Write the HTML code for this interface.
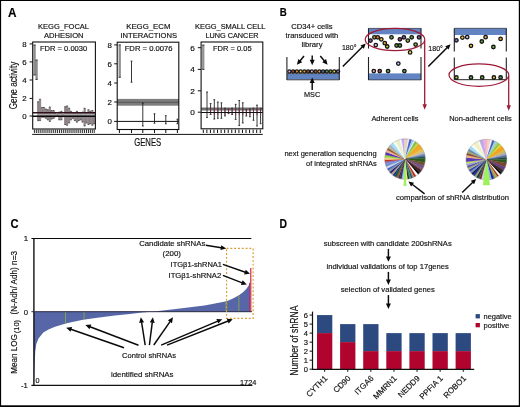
<!DOCTYPE html>
<html lang="en"><head><meta charset="utf-8"><title>Figure</title>
<style>html,body{margin:0;padding:0;background:#fff;}svg{display:block;will-change:transform;}text{font-family:"Liberation Sans", Arial, Helvetica, sans-serif;stroke:#111;stroke-width:0.16px;}</style>
</head><body>
<svg width="520" height="407" viewBox="0 0 520 407">
<rect x="0" y="0" width="520" height="407" fill="#fff"/>
<text x="7.90" y="16.70" font-size="12.4" textLength="8.50" lengthAdjust="spacingAndGlyphs" fill="#000" font-weight="bold">A</text>
<text x="279.70" y="15.90" font-size="10.6" textLength="7.00" lengthAdjust="spacingAndGlyphs" fill="#000" font-weight="bold">B</text>
<text x="10.40" y="228.20" font-size="12" textLength="8.10" lengthAdjust="spacingAndGlyphs" fill="#000" font-weight="bold">C</text>
<text x="279.50" y="228.10" font-size="12.1" textLength="7.50" lengthAdjust="spacingAndGlyphs" fill="#000" font-weight="bold">D</text>
<g id="panelA">
<text x="38.10" y="29.00" font-size="7.5" textLength="50.90" lengthAdjust="spacingAndGlyphs" fill="#111">KEGG_FOCAL</text>
<text x="43.90" y="38.20" font-size="7.5" textLength="39.70" lengthAdjust="spacingAndGlyphs" fill="#111">ADHESION</text>
<text x="126.20" y="29.00" font-size="7.5" textLength="44.20" lengthAdjust="spacingAndGlyphs" fill="#111">KEGG_ECM</text>
<text x="120.40" y="38.20" font-size="7.5" textLength="56.60" lengthAdjust="spacingAndGlyphs" fill="#111">INTERACTIONS</text>
<text x="195.00" y="29.00" font-size="7.5" textLength="70.50" lengthAdjust="spacingAndGlyphs" fill="#111">KEGG_SMALL CELL</text>
<text x="205.50" y="38.20" font-size="7.5" textLength="53.00" lengthAdjust="spacingAndGlyphs" fill="#111">LUNG CANCER</text>
<text x="40.00" y="50.90" font-size="7.5" textLength="47.20" lengthAdjust="spacingAndGlyphs" fill="#111">FDR = 0.0030</text>
<text x="124.70" y="50.90" font-size="7.5" textLength="47.90" lengthAdjust="spacingAndGlyphs" fill="#111">FDR = 0.0076</text>
<text x="212.90" y="50.90" font-size="7.5" textLength="38.70" lengthAdjust="spacingAndGlyphs" fill="#111">FDR = 0.05</text>
<line x1="38.16" y1="101.72" x2="38.16" y2="120.60" stroke="#a89ca2" stroke-width="1.45"/>
<line x1="37.46" y1="101.72" x2="37.46" y2="120.60" stroke="#4a4045" stroke-width="0.45"/>
<line x1="38.86" y1="101.72" x2="38.86" y2="120.60" stroke="#4a4045" stroke-width="0.45"/>
<line x1="37.36" y1="101.72" x2="38.96" y2="101.72" stroke="#222" stroke-width="0.7"/>
<line x1="37.36" y1="120.60" x2="38.96" y2="120.60" stroke="#222" stroke-width="0.7"/>
<line x1="40.02" y1="99.24" x2="40.02" y2="120.60" stroke="#a89ca2" stroke-width="1.45"/>
<line x1="39.32" y1="99.24" x2="39.32" y2="120.60" stroke="#4a4045" stroke-width="0.45"/>
<line x1="40.72" y1="99.24" x2="40.72" y2="120.60" stroke="#4a4045" stroke-width="0.45"/>
<line x1="39.22" y1="99.24" x2="40.82" y2="99.24" stroke="#222" stroke-width="0.7"/>
<line x1="39.22" y1="120.60" x2="40.82" y2="120.60" stroke="#222" stroke-width="0.7"/>
<line x1="42.03" y1="107.45" x2="42.03" y2="117.20" stroke="#a89ca2" stroke-width="1.45"/>
<line x1="41.33" y1="107.45" x2="41.33" y2="117.20" stroke="#4a4045" stroke-width="0.45"/>
<line x1="42.73" y1="107.45" x2="42.73" y2="117.20" stroke="#4a4045" stroke-width="0.45"/>
<line x1="41.23" y1="107.45" x2="42.83" y2="107.45" stroke="#222" stroke-width="0.7"/>
<line x1="41.23" y1="117.20" x2="42.83" y2="117.20" stroke="#222" stroke-width="0.7"/>
<line x1="43.89" y1="107.45" x2="43.89" y2="117.20" stroke="#a89ca2" stroke-width="1.45"/>
<line x1="43.19" y1="107.45" x2="43.19" y2="117.20" stroke="#4a4045" stroke-width="0.45"/>
<line x1="44.59" y1="107.45" x2="44.59" y2="117.20" stroke="#4a4045" stroke-width="0.45"/>
<line x1="43.09" y1="107.45" x2="44.69" y2="107.45" stroke="#222" stroke-width="0.7"/>
<line x1="43.09" y1="117.20" x2="44.69" y2="117.20" stroke="#222" stroke-width="0.7"/>
<line x1="45.90" y1="108.99" x2="45.90" y2="118.28" stroke="#a89ca2" stroke-width="1.45"/>
<line x1="45.20" y1="108.99" x2="45.20" y2="118.28" stroke="#4a4045" stroke-width="0.45"/>
<line x1="46.60" y1="108.99" x2="46.60" y2="118.28" stroke="#4a4045" stroke-width="0.45"/>
<line x1="45.10" y1="108.99" x2="46.70" y2="108.99" stroke="#222" stroke-width="0.7"/>
<line x1="45.10" y1="118.28" x2="46.70" y2="118.28" stroke="#222" stroke-width="0.7"/>
<line x1="47.76" y1="109.77" x2="47.76" y2="119.83" stroke="#a89ca2" stroke-width="1.45"/>
<line x1="47.06" y1="109.77" x2="47.06" y2="119.83" stroke="#4a4045" stroke-width="0.45"/>
<line x1="48.46" y1="109.77" x2="48.46" y2="119.83" stroke="#4a4045" stroke-width="0.45"/>
<line x1="46.96" y1="109.77" x2="48.56" y2="109.77" stroke="#222" stroke-width="0.7"/>
<line x1="46.96" y1="119.83" x2="48.56" y2="119.83" stroke="#222" stroke-width="0.7"/>
<line x1="49.77" y1="106.98" x2="49.77" y2="121.38" stroke="#a89ca2" stroke-width="1.45"/>
<line x1="49.07" y1="106.98" x2="49.07" y2="121.38" stroke="#4a4045" stroke-width="0.45"/>
<line x1="50.47" y1="106.98" x2="50.47" y2="121.38" stroke="#4a4045" stroke-width="0.45"/>
<line x1="48.97" y1="106.98" x2="50.57" y2="106.98" stroke="#222" stroke-width="0.7"/>
<line x1="48.97" y1="121.38" x2="50.57" y2="121.38" stroke="#222" stroke-width="0.7"/>
<line x1="51.63" y1="110.54" x2="51.63" y2="119.06" stroke="#a89ca2" stroke-width="1.45"/>
<line x1="50.93" y1="110.54" x2="50.93" y2="119.06" stroke="#4a4045" stroke-width="0.45"/>
<line x1="52.33" y1="110.54" x2="52.33" y2="119.06" stroke="#4a4045" stroke-width="0.45"/>
<line x1="50.83" y1="110.54" x2="52.43" y2="110.54" stroke="#222" stroke-width="0.7"/>
<line x1="50.83" y1="119.06" x2="52.43" y2="119.06" stroke="#222" stroke-width="0.7"/>
<line x1="53.64" y1="110.54" x2="53.64" y2="118.28" stroke="#a89ca2" stroke-width="1.45"/>
<line x1="52.94" y1="110.54" x2="52.94" y2="118.28" stroke="#4a4045" stroke-width="0.45"/>
<line x1="54.34" y1="110.54" x2="54.34" y2="118.28" stroke="#4a4045" stroke-width="0.45"/>
<line x1="52.84" y1="110.54" x2="54.44" y2="110.54" stroke="#222" stroke-width="0.7"/>
<line x1="52.84" y1="118.28" x2="54.44" y2="118.28" stroke="#222" stroke-width="0.7"/>
<line x1="55.50" y1="113.64" x2="55.50" y2="116.73" stroke="#a89ca2" stroke-width="1.45"/>
<line x1="54.80" y1="113.64" x2="54.80" y2="116.73" stroke="#4a4045" stroke-width="0.45"/>
<line x1="56.20" y1="113.64" x2="56.20" y2="116.73" stroke="#4a4045" stroke-width="0.45"/>
<line x1="54.70" y1="113.64" x2="56.30" y2="113.64" stroke="#222" stroke-width="0.7"/>
<line x1="54.70" y1="116.73" x2="56.30" y2="116.73" stroke="#222" stroke-width="0.7"/>
<line x1="57.51" y1="114.41" x2="57.51" y2="115.96" stroke="#a89ca2" stroke-width="1.45"/>
<line x1="56.81" y1="114.41" x2="56.81" y2="115.96" stroke="#4a4045" stroke-width="0.45"/>
<line x1="58.21" y1="114.41" x2="58.21" y2="115.96" stroke="#4a4045" stroke-width="0.45"/>
<line x1="56.71" y1="114.41" x2="58.31" y2="114.41" stroke="#222" stroke-width="0.7"/>
<line x1="56.71" y1="115.96" x2="58.31" y2="115.96" stroke="#222" stroke-width="0.7"/>
<line x1="59.37" y1="112.09" x2="59.37" y2="119.83" stroke="#a89ca2" stroke-width="1.45"/>
<line x1="58.67" y1="112.09" x2="58.67" y2="119.83" stroke="#4a4045" stroke-width="0.45"/>
<line x1="60.07" y1="112.09" x2="60.07" y2="119.83" stroke="#4a4045" stroke-width="0.45"/>
<line x1="58.57" y1="112.09" x2="60.17" y2="112.09" stroke="#222" stroke-width="0.7"/>
<line x1="58.57" y1="119.83" x2="60.17" y2="119.83" stroke="#222" stroke-width="0.7"/>
<line x1="61.38" y1="111.32" x2="61.38" y2="119.83" stroke="#a89ca2" stroke-width="1.45"/>
<line x1="60.68" y1="111.32" x2="60.68" y2="119.83" stroke="#4a4045" stroke-width="0.45"/>
<line x1="62.08" y1="111.32" x2="62.08" y2="119.83" stroke="#4a4045" stroke-width="0.45"/>
<line x1="60.58" y1="111.32" x2="62.18" y2="111.32" stroke="#222" stroke-width="0.7"/>
<line x1="60.58" y1="119.83" x2="62.18" y2="119.83" stroke="#222" stroke-width="0.7"/>
<line x1="63.24" y1="114.41" x2="63.24" y2="116.73" stroke="#a89ca2" stroke-width="1.45"/>
<line x1="62.54" y1="114.41" x2="62.54" y2="116.73" stroke="#4a4045" stroke-width="0.45"/>
<line x1="63.94" y1="114.41" x2="63.94" y2="116.73" stroke="#4a4045" stroke-width="0.45"/>
<line x1="62.44" y1="114.41" x2="64.04" y2="114.41" stroke="#222" stroke-width="0.7"/>
<line x1="62.44" y1="116.73" x2="64.04" y2="116.73" stroke="#222" stroke-width="0.7"/>
<line x1="65.25" y1="106.67" x2="65.25" y2="124.47" stroke="#a89ca2" stroke-width="1.45"/>
<line x1="64.55" y1="106.67" x2="64.55" y2="124.47" stroke="#4a4045" stroke-width="0.45"/>
<line x1="65.95" y1="106.67" x2="65.95" y2="124.47" stroke="#4a4045" stroke-width="0.45"/>
<line x1="64.45" y1="106.67" x2="66.05" y2="106.67" stroke="#222" stroke-width="0.7"/>
<line x1="64.45" y1="124.47" x2="66.05" y2="124.47" stroke="#222" stroke-width="0.7"/>
<line x1="67.11" y1="105.90" x2="67.11" y2="125.25" stroke="#a89ca2" stroke-width="1.45"/>
<line x1="66.41" y1="105.90" x2="66.41" y2="125.25" stroke="#4a4045" stroke-width="0.45"/>
<line x1="67.81" y1="105.90" x2="67.81" y2="125.25" stroke="#4a4045" stroke-width="0.45"/>
<line x1="66.31" y1="105.90" x2="67.91" y2="105.90" stroke="#222" stroke-width="0.7"/>
<line x1="66.31" y1="125.25" x2="67.91" y2="125.25" stroke="#222" stroke-width="0.7"/>
<line x1="69.12" y1="108.22" x2="69.12" y2="122.93" stroke="#a89ca2" stroke-width="1.45"/>
<line x1="68.42" y1="108.22" x2="68.42" y2="122.93" stroke="#4a4045" stroke-width="0.45"/>
<line x1="69.82" y1="108.22" x2="69.82" y2="122.93" stroke="#4a4045" stroke-width="0.45"/>
<line x1="68.32" y1="108.22" x2="69.92" y2="108.22" stroke="#222" stroke-width="0.7"/>
<line x1="68.32" y1="122.93" x2="69.92" y2="122.93" stroke="#222" stroke-width="0.7"/>
<line x1="70.98" y1="111.32" x2="70.98" y2="119.83" stroke="#a89ca2" stroke-width="1.45"/>
<line x1="70.28" y1="111.32" x2="70.28" y2="119.83" stroke="#4a4045" stroke-width="0.45"/>
<line x1="71.68" y1="111.32" x2="71.68" y2="119.83" stroke="#4a4045" stroke-width="0.45"/>
<line x1="70.18" y1="111.32" x2="71.78" y2="111.32" stroke="#222" stroke-width="0.7"/>
<line x1="70.18" y1="119.83" x2="71.78" y2="119.83" stroke="#222" stroke-width="0.7"/>
<line x1="72.99" y1="112.86" x2="72.99" y2="118.28" stroke="#a89ca2" stroke-width="1.45"/>
<line x1="72.29" y1="112.86" x2="72.29" y2="118.28" stroke="#4a4045" stroke-width="0.45"/>
<line x1="73.69" y1="112.86" x2="73.69" y2="118.28" stroke="#4a4045" stroke-width="0.45"/>
<line x1="72.19" y1="112.86" x2="73.79" y2="112.86" stroke="#222" stroke-width="0.7"/>
<line x1="72.19" y1="118.28" x2="73.79" y2="118.28" stroke="#222" stroke-width="0.7"/>
<line x1="74.85" y1="112.86" x2="74.85" y2="120.60" stroke="#a89ca2" stroke-width="1.45"/>
<line x1="74.15" y1="112.86" x2="74.15" y2="120.60" stroke="#4a4045" stroke-width="0.45"/>
<line x1="75.55" y1="112.86" x2="75.55" y2="120.60" stroke="#4a4045" stroke-width="0.45"/>
<line x1="74.05" y1="112.86" x2="75.65" y2="112.86" stroke="#222" stroke-width="0.7"/>
<line x1="74.05" y1="120.60" x2="75.65" y2="120.60" stroke="#222" stroke-width="0.7"/>
<line x1="76.86" y1="111.32" x2="76.86" y2="122.15" stroke="#a89ca2" stroke-width="1.45"/>
<line x1="76.16" y1="111.32" x2="76.16" y2="122.15" stroke="#4a4045" stroke-width="0.45"/>
<line x1="77.56" y1="111.32" x2="77.56" y2="122.15" stroke="#4a4045" stroke-width="0.45"/>
<line x1="76.06" y1="111.32" x2="77.66" y2="111.32" stroke="#222" stroke-width="0.7"/>
<line x1="76.06" y1="122.15" x2="77.66" y2="122.15" stroke="#222" stroke-width="0.7"/>
<line x1="78.72" y1="112.86" x2="78.72" y2="120.60" stroke="#a89ca2" stroke-width="1.45"/>
<line x1="78.02" y1="112.86" x2="78.02" y2="120.60" stroke="#4a4045" stroke-width="0.45"/>
<line x1="79.42" y1="112.86" x2="79.42" y2="120.60" stroke="#4a4045" stroke-width="0.45"/>
<line x1="77.92" y1="112.86" x2="79.52" y2="112.86" stroke="#222" stroke-width="0.7"/>
<line x1="77.92" y1="120.60" x2="79.52" y2="120.60" stroke="#222" stroke-width="0.7"/>
<line x1="80.73" y1="113.64" x2="80.73" y2="119.83" stroke="#a89ca2" stroke-width="1.45"/>
<line x1="80.03" y1="113.64" x2="80.03" y2="119.83" stroke="#4a4045" stroke-width="0.45"/>
<line x1="81.43" y1="113.64" x2="81.43" y2="119.83" stroke="#4a4045" stroke-width="0.45"/>
<line x1="79.93" y1="113.64" x2="81.53" y2="113.64" stroke="#222" stroke-width="0.7"/>
<line x1="79.93" y1="119.83" x2="81.53" y2="119.83" stroke="#222" stroke-width="0.7"/>
<line x1="82.59" y1="112.09" x2="82.59" y2="122.15" stroke="#a89ca2" stroke-width="1.45"/>
<line x1="81.89" y1="112.09" x2="81.89" y2="122.15" stroke="#4a4045" stroke-width="0.45"/>
<line x1="83.29" y1="112.09" x2="83.29" y2="122.15" stroke="#4a4045" stroke-width="0.45"/>
<line x1="81.79" y1="112.09" x2="83.39" y2="112.09" stroke="#222" stroke-width="0.7"/>
<line x1="81.79" y1="122.15" x2="83.39" y2="122.15" stroke="#222" stroke-width="0.7"/>
<line x1="84.60" y1="108.22" x2="84.60" y2="126.02" stroke="#a89ca2" stroke-width="1.45"/>
<line x1="83.90" y1="108.22" x2="83.90" y2="126.02" stroke="#4a4045" stroke-width="0.45"/>
<line x1="85.30" y1="108.22" x2="85.30" y2="126.02" stroke="#4a4045" stroke-width="0.45"/>
<line x1="83.80" y1="108.22" x2="85.40" y2="108.22" stroke="#222" stroke-width="0.7"/>
<line x1="83.80" y1="126.02" x2="85.40" y2="126.02" stroke="#222" stroke-width="0.7"/>
<line x1="86.46" y1="112.86" x2="86.46" y2="122.93" stroke="#a89ca2" stroke-width="1.45"/>
<line x1="85.76" y1="112.86" x2="85.76" y2="122.93" stroke="#4a4045" stroke-width="0.45"/>
<line x1="87.16" y1="112.86" x2="87.16" y2="122.93" stroke="#4a4045" stroke-width="0.45"/>
<line x1="85.66" y1="112.86" x2="87.26" y2="112.86" stroke="#222" stroke-width="0.7"/>
<line x1="85.66" y1="122.93" x2="87.26" y2="122.93" stroke="#222" stroke-width="0.7"/>
<line x1="88.47" y1="109.77" x2="88.47" y2="124.47" stroke="#a89ca2" stroke-width="1.45"/>
<line x1="87.77" y1="109.77" x2="87.77" y2="124.47" stroke="#4a4045" stroke-width="0.45"/>
<line x1="89.17" y1="109.77" x2="89.17" y2="124.47" stroke="#4a4045" stroke-width="0.45"/>
<line x1="87.67" y1="109.77" x2="89.27" y2="109.77" stroke="#222" stroke-width="0.7"/>
<line x1="87.67" y1="124.47" x2="89.27" y2="124.47" stroke="#222" stroke-width="0.7"/>
<line x1="90.33" y1="111.32" x2="90.33" y2="123.70" stroke="#a89ca2" stroke-width="1.45"/>
<line x1="89.63" y1="111.32" x2="89.63" y2="123.70" stroke="#4a4045" stroke-width="0.45"/>
<line x1="91.03" y1="111.32" x2="91.03" y2="123.70" stroke="#4a4045" stroke-width="0.45"/>
<line x1="89.53" y1="111.32" x2="91.13" y2="111.32" stroke="#222" stroke-width="0.7"/>
<line x1="89.53" y1="123.70" x2="91.13" y2="123.70" stroke="#222" stroke-width="0.7"/>
<line x1="92.34" y1="110.54" x2="92.34" y2="125.25" stroke="#a89ca2" stroke-width="1.45"/>
<line x1="91.64" y1="110.54" x2="91.64" y2="125.25" stroke="#4a4045" stroke-width="0.45"/>
<line x1="93.04" y1="110.54" x2="93.04" y2="125.25" stroke="#4a4045" stroke-width="0.45"/>
<line x1="91.54" y1="110.54" x2="93.14" y2="110.54" stroke="#222" stroke-width="0.7"/>
<line x1="91.54" y1="125.25" x2="93.14" y2="125.25" stroke="#222" stroke-width="0.7"/>
<line x1="94.20" y1="112.86" x2="94.20" y2="123.70" stroke="#a89ca2" stroke-width="1.45"/>
<line x1="93.50" y1="112.86" x2="93.50" y2="123.70" stroke="#4a4045" stroke-width="0.45"/>
<line x1="94.90" y1="112.86" x2="94.90" y2="123.70" stroke="#4a4045" stroke-width="0.45"/>
<line x1="93.40" y1="112.86" x2="95.00" y2="112.86" stroke="#222" stroke-width="0.7"/>
<line x1="93.40" y1="123.70" x2="95.00" y2="123.70" stroke="#222" stroke-width="0.7"/>
<rect x="32.70" y="113.30" width="62.70" height="2.20" fill="#ffffff" opacity="0.3"/>
<line x1="32.70" y1="112.65" x2="95.40" y2="112.65" stroke="#30121c" stroke-width="1.45"/>
<line x1="32.70" y1="116.20" x2="95.40" y2="116.20" stroke="#0a0a0a" stroke-width="1.45"/>
<line x1="34.60" y1="45.00" x2="34.60" y2="75.00" stroke="#c8c8c8" stroke-width="0.9"/>
<line x1="34.00" y1="45.00" x2="34.00" y2="75.00" stroke="#2a2a2a" stroke-width="0.55"/>
<line x1="35.20" y1="45.00" x2="35.20" y2="75.00" stroke="#2a2a2a" stroke-width="0.55"/>
<line x1="33.50" y1="45.00" x2="35.70" y2="45.00" stroke="#111" stroke-width="0.8"/>
<line x1="33.50" y1="75.00" x2="35.70" y2="75.00" stroke="#111" stroke-width="0.8"/>
<line x1="36.60" y1="60.00" x2="36.60" y2="79.40" stroke="#c8c8c8" stroke-width="0.9"/>
<line x1="36.00" y1="60.00" x2="36.00" y2="79.40" stroke="#2a2a2a" stroke-width="0.55"/>
<line x1="37.20" y1="60.00" x2="37.20" y2="79.40" stroke="#2a2a2a" stroke-width="0.55"/>
<line x1="35.50" y1="60.00" x2="37.70" y2="60.00" stroke="#111" stroke-width="0.8"/>
<line x1="35.50" y1="79.40" x2="37.70" y2="79.40" stroke="#111" stroke-width="0.8"/>
<rect x="32.70" y="42.00" width="62.70" height="87.00" fill="none" stroke="#111" stroke-width="1.1"/>
<line x1="29.60" y1="43.90" x2="32.70" y2="43.90" stroke="#111" stroke-width="1.0"/>
<text x="22.20" y="46.70" font-size="7.8" textLength="4.40" lengthAdjust="spacingAndGlyphs" fill="#111">8</text>
<line x1="29.60" y1="61.90" x2="32.70" y2="61.90" stroke="#111" stroke-width="1.0"/>
<text x="22.20" y="64.70" font-size="7.8" textLength="4.40" lengthAdjust="spacingAndGlyphs" fill="#111">6</text>
<line x1="29.60" y1="80.00" x2="32.70" y2="80.00" stroke="#111" stroke-width="1.0"/>
<text x="22.20" y="82.80" font-size="7.8" textLength="4.40" lengthAdjust="spacingAndGlyphs" fill="#111">4</text>
<line x1="29.60" y1="98.40" x2="32.70" y2="98.40" stroke="#111" stroke-width="1.0"/>
<text x="22.20" y="101.20" font-size="7.8" textLength="4.40" lengthAdjust="spacingAndGlyphs" fill="#111">2</text>
<line x1="29.60" y1="116.00" x2="32.70" y2="116.00" stroke="#111" stroke-width="1.0"/>
<text x="22.20" y="118.80" font-size="7.8" textLength="4.40" lengthAdjust="spacingAndGlyphs" fill="#111">0</text>
<line x1="34.40" y1="129.60" x2="34.40" y2="133.00" stroke="#111" stroke-width="0.9"/>
<line x1="36.33" y1="129.60" x2="36.33" y2="133.00" stroke="#111" stroke-width="0.9"/>
<line x1="38.26" y1="129.60" x2="38.26" y2="133.00" stroke="#111" stroke-width="0.9"/>
<line x1="40.19" y1="129.60" x2="40.19" y2="133.00" stroke="#111" stroke-width="0.9"/>
<line x1="42.12" y1="129.60" x2="42.12" y2="133.00" stroke="#111" stroke-width="0.9"/>
<line x1="44.05" y1="129.60" x2="44.05" y2="133.00" stroke="#111" stroke-width="0.9"/>
<line x1="45.98" y1="129.60" x2="45.98" y2="133.00" stroke="#111" stroke-width="0.9"/>
<line x1="47.91" y1="129.60" x2="47.91" y2="133.00" stroke="#111" stroke-width="0.9"/>
<line x1="49.84" y1="129.60" x2="49.84" y2="133.00" stroke="#111" stroke-width="0.9"/>
<line x1="51.77" y1="129.60" x2="51.77" y2="133.00" stroke="#111" stroke-width="0.9"/>
<line x1="53.70" y1="129.60" x2="53.70" y2="133.00" stroke="#111" stroke-width="0.9"/>
<line x1="55.63" y1="129.60" x2="55.63" y2="133.00" stroke="#111" stroke-width="0.9"/>
<line x1="57.56" y1="129.60" x2="57.56" y2="133.00" stroke="#111" stroke-width="0.9"/>
<line x1="59.49" y1="129.60" x2="59.49" y2="133.00" stroke="#111" stroke-width="0.9"/>
<line x1="61.42" y1="129.60" x2="61.42" y2="133.00" stroke="#111" stroke-width="0.9"/>
<line x1="63.35" y1="129.60" x2="63.35" y2="133.00" stroke="#111" stroke-width="0.9"/>
<line x1="65.28" y1="129.60" x2="65.28" y2="133.00" stroke="#111" stroke-width="0.9"/>
<line x1="67.21" y1="129.60" x2="67.21" y2="133.00" stroke="#111" stroke-width="0.9"/>
<line x1="69.14" y1="129.60" x2="69.14" y2="133.00" stroke="#111" stroke-width="0.9"/>
<line x1="71.07" y1="129.60" x2="71.07" y2="133.00" stroke="#111" stroke-width="0.9"/>
<line x1="73.00" y1="129.60" x2="73.00" y2="133.00" stroke="#111" stroke-width="0.9"/>
<line x1="74.93" y1="129.60" x2="74.93" y2="133.00" stroke="#111" stroke-width="0.9"/>
<line x1="76.86" y1="129.60" x2="76.86" y2="133.00" stroke="#111" stroke-width="0.9"/>
<line x1="78.79" y1="129.60" x2="78.79" y2="133.00" stroke="#111" stroke-width="0.9"/>
<line x1="80.72" y1="129.60" x2="80.72" y2="133.00" stroke="#111" stroke-width="0.9"/>
<line x1="82.65" y1="129.60" x2="82.65" y2="133.00" stroke="#111" stroke-width="0.9"/>
<line x1="84.58" y1="129.60" x2="84.58" y2="133.00" stroke="#111" stroke-width="0.9"/>
<line x1="86.51" y1="129.60" x2="86.51" y2="133.00" stroke="#111" stroke-width="0.9"/>
<line x1="88.44" y1="129.60" x2="88.44" y2="133.00" stroke="#111" stroke-width="0.9"/>
<line x1="90.37" y1="129.60" x2="90.37" y2="133.00" stroke="#111" stroke-width="0.9"/>
<line x1="92.30" y1="129.60" x2="92.30" y2="133.00" stroke="#111" stroke-width="0.9"/>
<line x1="94.23" y1="129.60" x2="94.23" y2="133.00" stroke="#111" stroke-width="0.9"/>
<rect x="117.20" y="98.90" width="61.60" height="6.80" fill="#7e7e7e"/>
<line x1="117.20" y1="102.30" x2="178.80" y2="102.30" stroke="#555" stroke-width="0.9"/>
<line x1="117.20" y1="121.40" x2="178.80" y2="121.40" stroke="#111" stroke-width="1.0"/>
<line x1="119.70" y1="44.90" x2="119.70" y2="77.30" stroke="#c8c8c8" stroke-width="0.9"/>
<line x1="119.10" y1="44.90" x2="119.10" y2="77.30" stroke="#2a2a2a" stroke-width="0.55"/>
<line x1="120.30" y1="44.90" x2="120.30" y2="77.30" stroke="#2a2a2a" stroke-width="0.55"/>
<line x1="118.60" y1="44.90" x2="120.80" y2="44.90" stroke="#111" stroke-width="0.8"/>
<line x1="118.60" y1="77.30" x2="120.80" y2="77.30" stroke="#111" stroke-width="0.8"/>
<line x1="131.50" y1="61.10" x2="131.50" y2="82.20" stroke="#222" stroke-width="0.9"/>
<line x1="130.60" y1="61.10" x2="132.40" y2="61.10" stroke="#111" stroke-width="0.8"/>
<line x1="130.60" y1="82.20" x2="132.40" y2="82.20" stroke="#111" stroke-width="0.8"/>
<line x1="142.80" y1="103.00" x2="142.80" y2="126.00" stroke="#222" stroke-width="0.9"/>
<line x1="141.90" y1="103.00" x2="143.70" y2="103.00" stroke="#111" stroke-width="0.8"/>
<line x1="141.90" y1="126.00" x2="143.70" y2="126.00" stroke="#111" stroke-width="0.8"/>
<line x1="154.50" y1="113.80" x2="154.50" y2="123.20" stroke="#222" stroke-width="0.9"/>
<line x1="153.60" y1="113.80" x2="155.40" y2="113.80" stroke="#111" stroke-width="0.8"/>
<line x1="153.60" y1="123.20" x2="155.40" y2="123.20" stroke="#111" stroke-width="0.8"/>
<line x1="165.80" y1="115.70" x2="165.80" y2="123.80" stroke="#222" stroke-width="0.9"/>
<line x1="164.90" y1="115.70" x2="166.70" y2="115.70" stroke="#111" stroke-width="0.8"/>
<line x1="164.90" y1="123.80" x2="166.70" y2="123.80" stroke="#111" stroke-width="0.8"/>
<line x1="177.40" y1="119.20" x2="177.40" y2="123.80" stroke="#222" stroke-width="0.9"/>
<line x1="176.50" y1="119.20" x2="178.30" y2="119.20" stroke="#111" stroke-width="0.8"/>
<line x1="176.50" y1="123.80" x2="178.30" y2="123.80" stroke="#111" stroke-width="0.8"/>
<rect x="117.20" y="42.20" width="61.60" height="87.30" fill="none" stroke="#111" stroke-width="1.1"/>
<line x1="114.20" y1="44.90" x2="117.20" y2="44.90" stroke="#111" stroke-width="1.0"/>
<text x="107.50" y="47.70" font-size="7.8" textLength="4.40" lengthAdjust="spacingAndGlyphs" fill="#111">8</text>
<line x1="114.20" y1="63.80" x2="117.20" y2="63.80" stroke="#111" stroke-width="1.0"/>
<text x="107.50" y="66.60" font-size="7.8" textLength="4.40" lengthAdjust="spacingAndGlyphs" fill="#111">6</text>
<line x1="114.20" y1="83.00" x2="117.20" y2="83.00" stroke="#111" stroke-width="1.0"/>
<text x="107.50" y="85.80" font-size="7.8" textLength="4.40" lengthAdjust="spacingAndGlyphs" fill="#111">4</text>
<line x1="114.20" y1="102.00" x2="117.20" y2="102.00" stroke="#111" stroke-width="1.0"/>
<text x="107.50" y="104.80" font-size="7.8" textLength="4.40" lengthAdjust="spacingAndGlyphs" fill="#111">2</text>
<line x1="114.20" y1="121.40" x2="117.20" y2="121.40" stroke="#111" stroke-width="1.0"/>
<text x="107.50" y="124.20" font-size="7.8" textLength="4.40" lengthAdjust="spacingAndGlyphs" fill="#111">0</text>
<line x1="119.40" y1="129.60" x2="119.40" y2="133.00" stroke="#111" stroke-width="1.0"/>
<line x1="131.50" y1="129.60" x2="131.50" y2="133.00" stroke="#111" stroke-width="1.0"/>
<line x1="142.80" y1="129.60" x2="142.80" y2="133.00" stroke="#111" stroke-width="1.0"/>
<line x1="154.50" y1="129.60" x2="154.50" y2="133.00" stroke="#111" stroke-width="1.0"/>
<line x1="165.80" y1="129.60" x2="165.80" y2="133.00" stroke="#111" stroke-width="1.0"/>
<line x1="177.40" y1="129.60" x2="177.40" y2="133.00" stroke="#111" stroke-width="1.0"/>
<rect x="201.10" y="107.40" width="61.70" height="3.20" fill="#8c8c8c"/>
<line x1="201.10" y1="109.00" x2="262.80" y2="109.00" stroke="#444" stroke-width="0.8"/>
<line x1="210.59" y1="103.58" x2="210.59" y2="114.41" stroke="#222" stroke-width="0.9"/>
<line x1="209.69" y1="103.58" x2="211.49" y2="103.58" stroke="#111" stroke-width="0.8"/>
<line x1="209.69" y1="114.41" x2="211.49" y2="114.41" stroke="#111" stroke-width="0.8"/>
<line x1="210.59" y1="108.22" x2="210.59" y2="114.41" stroke="#7a3045" stroke-width="0.9"/>
<line x1="214.30" y1="99.71" x2="214.30" y2="119.06" stroke="#222" stroke-width="0.9"/>
<line x1="213.40" y1="99.71" x2="215.20" y2="99.71" stroke="#111" stroke-width="0.8"/>
<line x1="213.40" y1="119.06" x2="215.20" y2="119.06" stroke="#111" stroke-width="0.8"/>
<line x1="214.30" y1="108.22" x2="214.30" y2="115.19" stroke="#7a3045" stroke-width="0.9"/>
<line x1="217.86" y1="102.03" x2="217.86" y2="118.28" stroke="#222" stroke-width="0.9"/>
<line x1="216.96" y1="102.03" x2="218.76" y2="102.03" stroke="#111" stroke-width="0.8"/>
<line x1="216.96" y1="118.28" x2="218.76" y2="118.28" stroke="#111" stroke-width="0.8"/>
<line x1="217.86" y1="108.22" x2="217.86" y2="115.19" stroke="#7a3045" stroke-width="0.9"/>
<line x1="221.42" y1="102.80" x2="221.42" y2="118.28" stroke="#222" stroke-width="0.9"/>
<line x1="220.52" y1="102.80" x2="222.32" y2="102.80" stroke="#111" stroke-width="0.8"/>
<line x1="220.52" y1="118.28" x2="222.32" y2="118.28" stroke="#111" stroke-width="0.8"/>
<line x1="221.42" y1="108.22" x2="221.42" y2="115.19" stroke="#7a3045" stroke-width="0.9"/>
<line x1="224.98" y1="108.22" x2="224.98" y2="115.96" stroke="#222" stroke-width="0.9"/>
<line x1="224.08" y1="108.22" x2="225.88" y2="108.22" stroke="#111" stroke-width="0.8"/>
<line x1="224.08" y1="115.96" x2="225.88" y2="115.96" stroke="#111" stroke-width="0.8"/>
<line x1="224.98" y1="108.22" x2="224.98" y2="115.19" stroke="#7a3045" stroke-width="0.9"/>
<line x1="228.54" y1="108.99" x2="228.54" y2="113.64" stroke="#222" stroke-width="0.9"/>
<line x1="227.64" y1="108.99" x2="229.44" y2="108.99" stroke="#111" stroke-width="0.8"/>
<line x1="227.64" y1="113.64" x2="229.44" y2="113.64" stroke="#111" stroke-width="0.8"/>
<line x1="228.54" y1="108.99" x2="228.54" y2="113.64" stroke="#7a3045" stroke-width="0.9"/>
<line x1="232.11" y1="108.22" x2="232.11" y2="114.41" stroke="#222" stroke-width="0.9"/>
<line x1="231.21" y1="108.22" x2="233.01" y2="108.22" stroke="#111" stroke-width="0.8"/>
<line x1="231.21" y1="114.41" x2="233.01" y2="114.41" stroke="#111" stroke-width="0.8"/>
<line x1="232.11" y1="108.22" x2="232.11" y2="114.41" stroke="#7a3045" stroke-width="0.9"/>
<line x1="235.67" y1="104.35" x2="235.67" y2="119.37" stroke="#222" stroke-width="0.9"/>
<line x1="234.77" y1="104.35" x2="236.57" y2="104.35" stroke="#111" stroke-width="0.8"/>
<line x1="234.77" y1="119.37" x2="236.57" y2="119.37" stroke="#111" stroke-width="0.8"/>
<line x1="235.67" y1="108.22" x2="235.67" y2="115.19" stroke="#7a3045" stroke-width="0.9"/>
<line x1="239.23" y1="100.48" x2="239.23" y2="125.56" stroke="#222" stroke-width="0.9"/>
<line x1="238.33" y1="100.48" x2="240.13" y2="100.48" stroke="#111" stroke-width="0.8"/>
<line x1="238.33" y1="125.56" x2="240.13" y2="125.56" stroke="#111" stroke-width="0.8"/>
<line x1="239.23" y1="108.22" x2="239.23" y2="115.19" stroke="#7a3045" stroke-width="0.9"/>
<line x1="242.79" y1="102.80" x2="242.79" y2="122.93" stroke="#222" stroke-width="0.9"/>
<line x1="241.89" y1="102.80" x2="243.69" y2="102.80" stroke="#111" stroke-width="0.8"/>
<line x1="241.89" y1="122.93" x2="243.69" y2="122.93" stroke="#111" stroke-width="0.8"/>
<line x1="242.79" y1="108.22" x2="242.79" y2="115.19" stroke="#7a3045" stroke-width="0.9"/>
<line x1="246.35" y1="109.77" x2="246.35" y2="115.96" stroke="#222" stroke-width="0.9"/>
<line x1="245.45" y1="109.77" x2="247.25" y2="109.77" stroke="#111" stroke-width="0.8"/>
<line x1="245.45" y1="115.96" x2="247.25" y2="115.96" stroke="#111" stroke-width="0.8"/>
<line x1="246.35" y1="109.77" x2="246.35" y2="115.19" stroke="#7a3045" stroke-width="0.9"/>
<line x1="249.91" y1="108.99" x2="249.91" y2="116.73" stroke="#222" stroke-width="0.9"/>
<line x1="249.01" y1="108.99" x2="250.81" y2="108.99" stroke="#111" stroke-width="0.8"/>
<line x1="249.01" y1="116.73" x2="250.81" y2="116.73" stroke="#111" stroke-width="0.8"/>
<line x1="249.91" y1="108.99" x2="249.91" y2="115.19" stroke="#7a3045" stroke-width="0.9"/>
<line x1="253.47" y1="108.22" x2="253.47" y2="120.29" stroke="#222" stroke-width="0.9"/>
<line x1="252.57" y1="108.22" x2="254.37" y2="108.22" stroke="#111" stroke-width="0.8"/>
<line x1="252.57" y1="120.29" x2="254.37" y2="120.29" stroke="#111" stroke-width="0.8"/>
<line x1="253.47" y1="108.22" x2="253.47" y2="115.19" stroke="#7a3045" stroke-width="0.9"/>
<line x1="257.03" y1="105.12" x2="257.03" y2="126.02" stroke="#222" stroke-width="0.9"/>
<line x1="256.13" y1="105.12" x2="257.93" y2="105.12" stroke="#111" stroke-width="0.8"/>
<line x1="256.13" y1="126.02" x2="257.93" y2="126.02" stroke="#111" stroke-width="0.8"/>
<line x1="257.03" y1="108.22" x2="257.03" y2="115.19" stroke="#7a3045" stroke-width="0.9"/>
<line x1="260.59" y1="108.22" x2="260.59" y2="123.70" stroke="#222" stroke-width="0.9"/>
<line x1="259.69" y1="108.22" x2="261.49" y2="108.22" stroke="#111" stroke-width="0.8"/>
<line x1="259.69" y1="123.70" x2="261.49" y2="123.70" stroke="#111" stroke-width="0.8"/>
<line x1="260.59" y1="108.22" x2="260.59" y2="115.19" stroke="#7a3045" stroke-width="0.9"/>
<line x1="207.00" y1="92.00" x2="207.00" y2="117.50" stroke="#222" stroke-width="0.9"/>
<line x1="206.10" y1="92.00" x2="207.90" y2="92.00" stroke="#111" stroke-width="0.8"/>
<line x1="206.10" y1="117.50" x2="207.90" y2="117.50" stroke="#111" stroke-width="0.8"/>
<line x1="201.10" y1="112.50" x2="262.80" y2="112.50" stroke="#111" stroke-width="1.0"/>
<line x1="203.30" y1="45.00" x2="203.30" y2="69.40" stroke="#c8c8c8" stroke-width="0.9"/>
<line x1="202.70" y1="45.00" x2="202.70" y2="69.40" stroke="#2a2a2a" stroke-width="0.55"/>
<line x1="203.90" y1="45.00" x2="203.90" y2="69.40" stroke="#2a2a2a" stroke-width="0.55"/>
<line x1="202.20" y1="45.00" x2="204.40" y2="45.00" stroke="#111" stroke-width="0.8"/>
<line x1="202.20" y1="69.40" x2="204.40" y2="69.40" stroke="#111" stroke-width="0.8"/>
<rect x="201.10" y="42.00" width="61.70" height="86.80" fill="none" stroke="#111" stroke-width="1.1"/>
<line x1="197.80" y1="47.70" x2="201.10" y2="47.70" stroke="#111" stroke-width="1.0"/>
<text x="190.20" y="50.50" font-size="7.8" textLength="4.60" lengthAdjust="spacingAndGlyphs" fill="#111">6</text>
<line x1="197.80" y1="69.40" x2="201.10" y2="69.40" stroke="#111" stroke-width="1.0"/>
<text x="190.20" y="72.20" font-size="7.8" textLength="4.60" lengthAdjust="spacingAndGlyphs" fill="#111">4</text>
<line x1="197.80" y1="90.80" x2="201.10" y2="90.80" stroke="#111" stroke-width="1.0"/>
<text x="190.20" y="93.60" font-size="7.8" textLength="4.60" lengthAdjust="spacingAndGlyphs" fill="#111">2</text>
<line x1="197.80" y1="112.20" x2="201.10" y2="112.20" stroke="#111" stroke-width="1.0"/>
<text x="190.20" y="115.00" font-size="7.8" textLength="4.60" lengthAdjust="spacingAndGlyphs" fill="#111">0</text>
<line x1="203.30" y1="129.60" x2="203.30" y2="133.00" stroke="#111" stroke-width="1.0"/>
<line x1="206.86" y1="129.60" x2="206.86" y2="133.00" stroke="#111" stroke-width="1.0"/>
<line x1="210.42" y1="129.60" x2="210.42" y2="133.00" stroke="#111" stroke-width="1.0"/>
<line x1="213.98" y1="129.60" x2="213.98" y2="133.00" stroke="#111" stroke-width="1.0"/>
<line x1="217.54" y1="129.60" x2="217.54" y2="133.00" stroke="#111" stroke-width="1.0"/>
<line x1="221.10" y1="129.60" x2="221.10" y2="133.00" stroke="#111" stroke-width="1.0"/>
<line x1="224.66" y1="129.60" x2="224.66" y2="133.00" stroke="#111" stroke-width="1.0"/>
<line x1="228.22" y1="129.60" x2="228.22" y2="133.00" stroke="#111" stroke-width="1.0"/>
<line x1="231.78" y1="129.60" x2="231.78" y2="133.00" stroke="#111" stroke-width="1.0"/>
<line x1="235.34" y1="129.60" x2="235.34" y2="133.00" stroke="#111" stroke-width="1.0"/>
<line x1="238.90" y1="129.60" x2="238.90" y2="133.00" stroke="#111" stroke-width="1.0"/>
<line x1="242.46" y1="129.60" x2="242.46" y2="133.00" stroke="#111" stroke-width="1.0"/>
<line x1="246.02" y1="129.60" x2="246.02" y2="133.00" stroke="#111" stroke-width="1.0"/>
<line x1="249.58" y1="129.60" x2="249.58" y2="133.00" stroke="#111" stroke-width="1.0"/>
<line x1="253.14" y1="129.60" x2="253.14" y2="133.00" stroke="#111" stroke-width="1.0"/>
<line x1="256.70" y1="129.60" x2="256.70" y2="133.00" stroke="#111" stroke-width="1.0"/>
<line x1="260.26" y1="129.60" x2="260.26" y2="133.00" stroke="#111" stroke-width="1.0"/>
<line x1="32.20" y1="134.40" x2="262.80" y2="134.40" stroke="#111" stroke-width="1.0"/>
<text x="134.20" y="145.80" font-size="10.5" textLength="27.00" lengthAdjust="spacingAndGlyphs" fill="#111" stroke="#111" stroke-width="0.25">GENES</text>
<text transform="translate(17.20 85.50) rotate(-90)" x="-23.85" y="0" font-size="10.3" textLength="47.70" lengthAdjust="spacingAndGlyphs" fill="#111" stroke="#111" stroke-width="0.2">Gene activity</text>
</g>
<g id="panelB">
<text x="291.30" y="28.60" font-size="7.5" textLength="41.20" lengthAdjust="spacingAndGlyphs" fill="#111">CD34+ cells</text>
<text x="285.60" y="37.60" font-size="7.5" textLength="52.70" lengthAdjust="spacingAndGlyphs" fill="#111">transduced with</text>
<text x="301.50" y="47.20" font-size="7.5" textLength="21.00" lengthAdjust="spacingAndGlyphs" fill="#111">library</text>
<text x="341.90" y="50.40" font-size="7.5" textLength="14.60" lengthAdjust="spacingAndGlyphs" fill="#111">180°</text>
<text x="428.30" y="51.20" font-size="7.5" textLength="14.60" lengthAdjust="spacingAndGlyphs" fill="#111">180°</text>
<text x="303.90" y="97.30" font-size="7.5" textLength="16.30" lengthAdjust="spacingAndGlyphs" fill="#111">MSC</text>
<text x="371.40" y="121.20" font-size="7.5" textLength="47.10" lengthAdjust="spacingAndGlyphs" fill="#111">Adherent cells</text>
<text x="449.20" y="121.20" font-size="7.5" textLength="62.50" lengthAdjust="spacingAndGlyphs" fill="#111">Non-adherent cells</text>
<text x="284.40" y="156.20" font-size="7.5" textLength="92.30" lengthAdjust="spacingAndGlyphs" fill="#111">next generation sequencing</text>
<text x="306.00" y="166.00" font-size="7.5" textLength="70.70" lengthAdjust="spacingAndGlyphs" fill="#111">of integrated shRNAs</text>
<text x="396.00" y="200.00" font-size="7.5" textLength="113.00" lengthAdjust="spacingAndGlyphs" fill="#111">comparison of shRNA distribution</text>
<rect x="287.00" y="73.80" width="52.20" height="5.80" fill="#6284c2"/>
<line x1="286.90" y1="56.90" x2="286.90" y2="80.00" stroke="#222" stroke-width="1.1"/>
<line x1="339.30" y1="56.90" x2="339.30" y2="80.00" stroke="#222" stroke-width="1.1"/>
<line x1="286.90" y1="79.80" x2="339.30" y2="79.80" stroke="#333" stroke-width="0.9"/>
<line x1="286.90" y1="73.60" x2="339.30" y2="73.60" stroke="#333" stroke-width="0.6"/>
<circle cx="289.40" cy="71.50" r="1.6" fill="#d8b8ee" stroke="#141414" stroke-width="1.3"/>
<circle cx="293.14" cy="71.50" r="1.6" fill="#b04838" stroke="#141414" stroke-width="1.3"/>
<circle cx="296.88" cy="71.50" r="1.6" fill="#e89038" stroke="#141414" stroke-width="1.3"/>
<circle cx="300.62" cy="71.50" r="1.6" fill="#f4e050" stroke="#141414" stroke-width="1.3"/>
<circle cx="304.36" cy="71.50" r="1.6" fill="#f0a030" stroke="#141414" stroke-width="1.3"/>
<circle cx="308.10" cy="71.50" r="1.6" fill="#a84830" stroke="#141414" stroke-width="1.3"/>
<circle cx="311.84" cy="71.50" r="1.6" fill="#d0c0f0" stroke="#141414" stroke-width="1.3"/>
<circle cx="315.58" cy="71.50" r="1.6" fill="#9a6a40" stroke="#141414" stroke-width="1.3"/>
<circle cx="319.32" cy="71.50" r="1.6" fill="#e8a040" stroke="#141414" stroke-width="1.3"/>
<circle cx="323.06" cy="71.50" r="1.6" fill="#5878c8" stroke="#141414" stroke-width="1.3"/>
<circle cx="326.80" cy="71.50" r="1.6" fill="#58a850" stroke="#141414" stroke-width="1.3"/>
<circle cx="330.54" cy="71.50" r="1.6" fill="#8a9a38" stroke="#141414" stroke-width="1.3"/>
<circle cx="334.28" cy="71.50" r="1.6" fill="#ecd840" stroke="#141414" stroke-width="1.3"/>
<circle cx="338.02" cy="71.50" r="1.6" fill="#7088b8" stroke="#141414" stroke-width="1.3"/>
<line x1="304.00" y1="56.00" x2="299.98" y2="60.99" stroke="#0a0a0a" stroke-width="1.45"/>
<polygon points="296.90,64.80 298.35,59.03 302.24,62.17" fill="#0a0a0a"/>
<line x1="312.20" y1="55.60" x2="312.20" y2="60.30" stroke="#0a0a0a" stroke-width="1.45"/>
<polygon points="312.20,65.20 309.70,59.80 314.70,59.80" fill="#0a0a0a"/>
<line x1="320.30" y1="56.00" x2="324.47" y2="61.03" stroke="#0a0a0a" stroke-width="1.45"/>
<polygon points="327.60,64.80 322.23,62.24 326.08,59.05" fill="#0a0a0a"/>
<line x1="312.20" y1="90.00" x2="312.20" y2="82.50" stroke="#0a0a0a" stroke-width="1.45"/>
<polygon points="312.20,77.60 314.70,83.00 309.70,83.00" fill="#0a0a0a"/>
<line x1="342.80" y1="66.40" x2="362.48" y2="46.72" stroke="#0a0a0a" stroke-width="1.45"/>
<polygon points="365.80,43.40 363.82,48.77 360.43,45.38" fill="#0a0a0a"/>
<line x1="428.30" y1="66.50" x2="447.28" y2="47.52" stroke="#0a0a0a" stroke-width="1.45"/>
<polygon points="450.60,44.20 448.62,49.57 445.23,46.18" fill="#0a0a0a"/>
<rect x="368.30" y="28.30" width="52.80" height="6.00" fill="#6284c2"/>
<rect x="368.30" y="73.40" width="52.80" height="6.60" fill="#6284c2"/>
<line x1="368.50" y1="28.30" x2="368.50" y2="48.60" stroke="#222" stroke-width="1.1"/>
<line x1="368.50" y1="57.00" x2="368.50" y2="80.00" stroke="#222" stroke-width="1.1"/>
<line x1="421.00" y1="28.30" x2="421.00" y2="48.60" stroke="#222" stroke-width="1.1"/>
<line x1="421.00" y1="57.00" x2="421.00" y2="80.00" stroke="#222" stroke-width="1.1"/>
<line x1="368.30" y1="28.40" x2="421.10" y2="28.40" stroke="#333" stroke-width="0.7"/>
<line x1="368.30" y1="79.90" x2="421.10" y2="79.90" stroke="#333" stroke-width="0.7"/>
<circle cx="370.50" cy="40.60" r="1.75" fill="#8a5aa8" stroke="#141414" stroke-width="1.3"/>
<circle cx="374.40" cy="37.30" r="1.75" fill="#b89a50" stroke="#141414" stroke-width="1.3"/>
<circle cx="377.70" cy="37.30" r="1.75" fill="#e08a30" stroke="#141414" stroke-width="1.3"/>
<circle cx="381.30" cy="39.30" r="1.75" fill="#f0d040" stroke="#141414" stroke-width="1.3"/>
<circle cx="375.80" cy="45.10" r="1.75" fill="#d8b8e8" stroke="#141414" stroke-width="1.3"/>
<circle cx="384.80" cy="43.20" r="1.75" fill="#e89a30" stroke="#141414" stroke-width="1.3"/>
<circle cx="387.20" cy="46.50" r="1.75" fill="#b8c838" stroke="#141414" stroke-width="1.3"/>
<circle cx="391.50" cy="37.30" r="1.75" fill="#68a848" stroke="#141414" stroke-width="1.3"/>
<circle cx="396.60" cy="45.50" r="1.75" fill="#8a9a38" stroke="#141414" stroke-width="1.3"/>
<circle cx="399.90" cy="45.50" r="1.75" fill="#58a048" stroke="#141414" stroke-width="1.3"/>
<circle cx="399.90" cy="39.30" r="1.75" fill="#a04868" stroke="#141414" stroke-width="1.3"/>
<circle cx="403.90" cy="37.30" r="1.75" fill="#8858a0" stroke="#141414" stroke-width="1.3"/>
<circle cx="407.80" cy="40.60" r="1.75" fill="#a8c038" stroke="#141414" stroke-width="1.3"/>
<circle cx="411.70" cy="37.30" r="1.75" fill="#58a048" stroke="#141414" stroke-width="1.3"/>
<circle cx="415.60" cy="44.60" r="1.75" fill="#98b838" stroke="#141414" stroke-width="1.3"/>
<circle cx="419.00" cy="37.30" r="1.75" fill="#8858a8" stroke="#141414" stroke-width="1.3"/>
<circle cx="410.10" cy="52.40" r="1.75" fill="#f0d848" stroke="#141414" stroke-width="1.3"/>
<circle cx="398.30" cy="63.60" r="1.75" fill="#c8b8f0" stroke="#141414" stroke-width="1.3"/>
<circle cx="373.80" cy="71.10" r="1.75" fill="#e0a8a0" stroke="#141414" stroke-width="1.3"/>
<circle cx="379.70" cy="71.10" r="1.75" fill="#b04058" stroke="#141414" stroke-width="1.3"/>
<circle cx="388.10" cy="71.10" r="1.75" fill="#68a848" stroke="#141414" stroke-width="1.3"/>
<circle cx="404.40" cy="71.10" r="1.75" fill="#58a048" stroke="#141414" stroke-width="1.3"/>
<ellipse cx="395" cy="39.5" rx="29.8" ry="11.2" fill="none" stroke="#9e1a36" stroke-width="1.2"/>
<line x1="424.70" y1="40.50" x2="424.70" y2="104.70" stroke="#9e1a36" stroke-width="1.3"/>
<polygon points="424.70,109.80 422.50,104.20 426.90,104.20" fill="#9e1a36"/>
<rect x="454.30" y="28.20" width="52.00" height="6.80" fill="#6284c2"/>
<line x1="454.30" y1="28.20" x2="454.30" y2="51.60" stroke="#222" stroke-width="1.1"/>
<line x1="454.30" y1="57.60" x2="454.30" y2="80.00" stroke="#222" stroke-width="1.1"/>
<line x1="506.30" y1="28.20" x2="506.30" y2="51.60" stroke="#222" stroke-width="1.1"/>
<line x1="506.30" y1="57.60" x2="506.30" y2="80.00" stroke="#222" stroke-width="1.1"/>
<line x1="454.30" y1="28.30" x2="506.30" y2="28.30" stroke="#333" stroke-width="0.7"/>
<line x1="454.30" y1="79.70" x2="506.30" y2="79.70" stroke="#222" stroke-width="1.0"/>
<circle cx="456.40" cy="40.30" r="1.75" fill="#8a78c8" stroke="#141414" stroke-width="1.3"/>
<circle cx="462.40" cy="37.60" r="1.75" fill="#f0d040" stroke="#141414" stroke-width="1.3"/>
<circle cx="467.20" cy="37.20" r="1.75" fill="#c0c0f0" stroke="#141414" stroke-width="1.3"/>
<circle cx="471.00" cy="45.80" r="1.75" fill="#f0b030" stroke="#141414" stroke-width="1.3"/>
<circle cx="481.80" cy="41.50" r="1.75" fill="#68a848" stroke="#141414" stroke-width="1.3"/>
<circle cx="485.60" cy="37.20" r="1.75" fill="#d8a050" stroke="#141414" stroke-width="1.3"/>
<circle cx="493.40" cy="47.00" r="1.75" fill="#78b048" stroke="#141414" stroke-width="1.3"/>
<circle cx="500.60" cy="38.90" r="1.75" fill="#e8a030" stroke="#141414" stroke-width="1.3"/>
<circle cx="456.40" cy="77.50" r="1.75" fill="#b8c838" stroke="#141414" stroke-width="1.3"/>
<circle cx="471.00" cy="77.50" r="1.75" fill="#68a848" stroke="#141414" stroke-width="1.3"/>
<circle cx="482.20" cy="77.50" r="1.75" fill="#78b040" stroke="#141414" stroke-width="1.3"/>
<circle cx="493.90" cy="77.50" r="1.75" fill="#e8c030" stroke="#141414" stroke-width="1.3"/>
<circle cx="500.60" cy="77.50" r="1.75" fill="#58a048" stroke="#141414" stroke-width="1.3"/>
<ellipse cx="478.9" cy="75.1" rx="29.9" ry="11.2" fill="none" stroke="#9e1a36" stroke-width="1.2"/>
<line x1="508.70" y1="76.00" x2="508.70" y2="105.70" stroke="#9e1a36" stroke-width="1.3"/>
<polygon points="508.70,110.80 506.50,105.20 510.90,105.20" fill="#9e1a36"/>
<path d="M405.00,159.00 L405.00,138.80 A20.2,20.2 0 0 1 406.76,138.88 Z" fill="#e0b4e0" stroke="#e0b4e0" stroke-width="0.3"/>
<path d="M405.00,159.00 L406.76,138.88 A20.2,20.2 0 0 1 408.16,139.05 Z" fill="#f2c4a8" stroke="#f2c4a8" stroke-width="0.3"/>
<path d="M405.00,159.00 L408.16,139.05 A20.2,20.2 0 0 1 409.54,139.32 Z" fill="#f4f4fa" stroke="#f4f4fa" stroke-width="0.3"/>
<path d="M405.00,159.00 L409.54,139.32 A20.2,20.2 0 0 1 411.91,140.02 Z" fill="#3e5ec0" stroke="#3e5ec0" stroke-width="0.3"/>
<path d="M405.00,159.00 L411.91,140.02 A20.2,20.2 0 0 1 413.54,140.69 Z" fill="#9ec0f0" stroke="#9ec0f0" stroke-width="0.3"/>
<path d="M405.00,159.00 L413.54,140.69 A20.2,20.2 0 0 1 415.10,141.51 Z" fill="#d2e2f2" stroke="#d2e2f2" stroke-width="0.3"/>
<path d="M405.00,159.00 L415.10,141.51 A20.2,20.2 0 0 1 417.16,142.87 Z" fill="#7ec040" stroke="#7ec040" stroke-width="0.3"/>
<path d="M405.00,159.00 L417.16,142.87 A20.2,20.2 0 0 1 418.78,144.23 Z" fill="#c2d43e" stroke="#c2d43e" stroke-width="0.3"/>
<path d="M405.00,159.00 L418.78,144.23 A20.2,20.2 0 0 1 420.92,146.56 Z" fill="#f2a21e" stroke="#f2a21e" stroke-width="0.3"/>
<path d="M405.00,159.00 L420.92,146.56 A20.2,20.2 0 0 1 422.49,148.90 Z" fill="#eeaa28" stroke="#eeaa28" stroke-width="0.3"/>
<path d="M405.00,159.00 L422.49,148.90 A20.2,20.2 0 0 1 423.98,152.09 Z" fill="#e0c25e" stroke="#e0c25e" stroke-width="0.3"/>
<path d="M405.00,159.00 L423.98,152.09 A20.2,20.2 0 0 1 424.60,154.11 Z" fill="#b2b4c4" stroke="#b2b4c4" stroke-width="0.3"/>
<path d="M405.00,159.00 L424.60,154.11 A20.2,20.2 0 0 1 425.00,156.19 Z" fill="#6e80b2" stroke="#6e80b2" stroke-width="0.3"/>
<path d="M405.00,159.00 L425.00,156.19 A20.2,20.2 0 0 1 425.19,158.30 Z" fill="#1e5060" stroke="#1e5060" stroke-width="0.3"/>
<path d="M405.00,159.00 L425.19,158.30 A20.2,20.2 0 0 1 424.89,162.51 Z" fill="#2a5c1c" stroke="#2a5c1c" stroke-width="0.3"/>
<path d="M405.00,159.00 L424.89,162.51 A20.2,20.2 0 0 1 423.98,165.91 Z" fill="#6e5030" stroke="#6e5030" stroke-width="0.3"/>
<path d="M405.00,159.00 L423.98,165.91 A20.2,20.2 0 0 1 422.84,168.48 Z" fill="#6e4a88" stroke="#6e4a88" stroke-width="0.3"/>
<path d="M405.00,159.00 L422.84,168.48 A20.2,20.2 0 0 1 421.55,170.59 Z" fill="#80506e" stroke="#80506e" stroke-width="0.3"/>
<path d="M405.00,159.00 L421.55,170.59 A20.2,20.2 0 0 1 419.77,172.78 Z" fill="#402020" stroke="#402020" stroke-width="0.3"/>
<path d="M405.00,159.00 L419.77,172.78 A20.2,20.2 0 0 1 417.98,174.47 Z" fill="#080808" stroke="#080808" stroke-width="0.3"/>
<path d="M405.00,159.00 L417.98,174.47 A20.2,20.2 0 0 1 416.00,175.94 Z" fill="#ffffff" stroke="#ffffff" stroke-width="0.3"/>
<path d="M405.00,159.00 L416.00,175.94 A20.2,20.2 0 0 1 414.17,177.00 Z" fill="#c22020" stroke="#c22020" stroke-width="0.3"/>
<path d="M405.00,159.00 L414.17,177.00 A20.2,20.2 0 0 1 412.57,177.73 Z" fill="#a0a040" stroke="#a0a040" stroke-width="0.3"/>
<path d="M405.00,159.00 L412.57,177.73 A20.2,20.2 0 0 1 410.91,178.32 Z" fill="#2040b2" stroke="#2040b2" stroke-width="0.3"/>
<path d="M405.00,159.00 L410.91,178.32 A20.2,20.2 0 0 1 409.20,178.76 Z" fill="#40a040" stroke="#40a040" stroke-width="0.3"/>
<path d="M405.00,159.00 L409.20,178.76 A20.2,20.2 0 0 1 407.46,179.05 Z" fill="#102060" stroke="#102060" stroke-width="0.3"/>
<path d="M405.00,159.00 L407.46,179.05 A20.2,20.2 0 0 1 405.70,179.19 Z" fill="#f0f040" stroke="#f0f040" stroke-width="0.3"/>
<path d="M405.00,159.00 L405.70,179.19 A20.2,20.2 0 0 1 403.59,179.15 Z" fill="#a2f05e" stroke="#a2f05e" stroke-width="0.3"/>
<path d="M405.00,159.00 L403.59,179.15 A20.2,20.2 0 0 1 401.49,178.89 Z" fill="#a0c0f0" stroke="#a0c0f0" stroke-width="0.3"/>
<path d="M405.00,159.00 L401.49,178.89 A20.2,20.2 0 0 1 399.77,178.51 Z" fill="#303030" stroke="#303030" stroke-width="0.3"/>
<path d="M405.00,159.00 L399.77,178.51 A20.2,20.2 0 0 1 398.09,177.98 Z" fill="#402080" stroke="#402080" stroke-width="0.3"/>
<path d="M405.00,159.00 L398.09,177.98 A20.2,20.2 0 0 1 396.14,177.16 Z" fill="#806020" stroke="#806020" stroke-width="0.3"/>
<path d="M405.00,159.00 L396.14,177.16 A20.2,20.2 0 0 1 394.30,176.13 Z" fill="#205020" stroke="#205020" stroke-width="0.3"/>
<path d="M405.00,159.00 L394.30,176.13 A20.2,20.2 0 0 1 392.56,174.92 Z" fill="#1030a0" stroke="#1030a0" stroke-width="0.3"/>
<path d="M405.00,159.00 L392.56,174.92 A20.2,20.2 0 0 1 390.97,173.53 Z" fill="#c0a080" stroke="#c0a080" stroke-width="0.3"/>
<path d="M405.00,159.00 L390.97,173.53 A20.2,20.2 0 0 1 389.53,171.98 Z" fill="#102070" stroke="#102070" stroke-width="0.3"/>
<path d="M405.00,159.00 L389.53,171.98 A20.2,20.2 0 0 1 388.25,170.30 Z" fill="#9090a2" stroke="#9090a2" stroke-width="0.3"/>
<path d="M405.00,159.00 L388.25,170.30 A20.2,20.2 0 0 1 387.16,168.48 Z" fill="#4060c0" stroke="#4060c0" stroke-width="0.3"/>
<path d="M405.00,159.00 L387.16,168.48 A20.2,20.2 0 0 1 386.27,166.57 Z" fill="#d0d8e8" stroke="#d0d8e8" stroke-width="0.3"/>
<path d="M405.00,159.00 L386.27,166.57 A20.2,20.2 0 0 1 385.49,164.23 Z" fill="#7090d0" stroke="#7090d0" stroke-width="0.3"/>
<path d="M405.00,159.00 L385.49,164.23 A20.2,20.2 0 0 1 385.00,161.81 Z" fill="#8080d0" stroke="#8080d0" stroke-width="0.3"/>
<path d="M405.00,159.00 L385.00,161.81 A20.2,20.2 0 0 1 384.81,159.70 Z" fill="#c03020" stroke="#c03020" stroke-width="0.3"/>
<path d="M405.00,159.00 L384.81,159.70 A20.2,20.2 0 0 1 384.88,157.24 Z" fill="#f2d080" stroke="#f2d080" stroke-width="0.3"/>
<path d="M405.00,159.00 L384.88,157.24 A20.2,20.2 0 0 1 385.24,154.80 Z" fill="#90d23e" stroke="#90d23e" stroke-width="0.3"/>
<path d="M405.00,159.00 L385.24,154.80 A20.2,20.2 0 0 1 386.02,152.09 Z" fill="#5030b0" stroke="#5030b0" stroke-width="0.3"/>
<path d="M405.00,159.00 L386.02,152.09 A20.2,20.2 0 0 1 387.00,149.83 Z" fill="#f0b292" stroke="#f0b292" stroke-width="0.3"/>
<path d="M405.00,159.00 L387.00,149.83 A20.2,20.2 0 0 1 388.06,148.00 Z" fill="#905030" stroke="#905030" stroke-width="0.3"/>
<path d="M405.00,159.00 L388.06,148.00 A20.2,20.2 0 0 1 389.08,146.56 Z" fill="#c0b070" stroke="#c0b070" stroke-width="0.3"/>
<path d="M405.00,159.00 L389.08,146.56 A20.2,20.2 0 0 1 390.72,144.72 Z" fill="#a0b0d0" stroke="#a0b0d0" stroke-width="0.3"/>
<path d="M405.00,159.00 L390.72,144.72 A20.2,20.2 0 0 1 393.41,142.45 Z" fill="#a2e0f0" stroke="#a2e0f0" stroke-width="0.3"/>
<path d="M405.00,159.00 L393.41,142.45 A20.2,20.2 0 0 1 395.52,141.16 Z" fill="#fafcf6" stroke="#fafcf6" stroke-width="0.3"/>
<path d="M405.00,159.00 L395.52,141.16 A20.2,20.2 0 0 1 399.77,139.49 Z" fill="#e8f0c8" stroke="#e8f0c8" stroke-width="0.3"/>
<path d="M405.00,159.00 L399.77,139.49 A20.2,20.2 0 0 1 401.49,139.11 Z" fill="#fafafa" stroke="#fafafa" stroke-width="0.3"/>
<path d="M405.00,159.00 L401.49,139.11 A20.2,20.2 0 0 1 405.00,138.80 Z" fill="#c8a8f0" stroke="#c8a8f0" stroke-width="0.3"/>
<circle cx="405.00" cy="159.00" r="20.2" fill="none" stroke="#8c8c8c" stroke-width="0.5" opacity="0.7"/>
<polygon points="405.00,159.00 403.55,186.00 406.45,186.00" fill="#a0f05c"/>
<line x1="405.00" y1="159.00" x2="405.00" y2="139.50" stroke="#e4f4b0" stroke-width="1.2"/>
<path d="M486.40,159.60 L487.11,139.31 A20.3,20.3 0 0 1 490.62,139.74 Z" fill="#f8d0c0" stroke="#f8d0c0" stroke-width="0.3"/>
<path d="M486.40,159.60 L490.62,139.74 A20.3,20.3 0 0 1 492.34,140.19 Z" fill="#f8f8fc" stroke="#f8f8fc" stroke-width="0.3"/>
<path d="M486.40,159.60 L492.34,140.19 A20.3,20.3 0 0 1 494.66,141.06 Z" fill="#4060b2" stroke="#4060b2" stroke-width="0.3"/>
<path d="M486.40,159.60 L494.66,141.06 A20.3,20.3 0 0 1 496.55,142.02 Z" fill="#a0c8f0" stroke="#a0c8f0" stroke-width="0.3"/>
<path d="M486.40,159.60 L496.55,142.02 A20.3,20.3 0 0 1 498.33,143.18 Z" fill="#a0d880" stroke="#a0d880" stroke-width="0.3"/>
<path d="M486.40,159.60 L498.33,143.18 A20.3,20.3 0 0 1 499.98,144.51 Z" fill="#90c040" stroke="#90c040" stroke-width="0.3"/>
<path d="M486.40,159.60 L499.98,144.51 A20.3,20.3 0 0 1 501.49,146.02 Z" fill="#e0d030" stroke="#e0d030" stroke-width="0.3"/>
<path d="M486.40,159.60 L501.49,146.02 A20.3,20.3 0 0 1 504.32,150.07 Z" fill="#f2a21e" stroke="#f2a21e" stroke-width="0.3"/>
<path d="M486.40,159.60 L504.32,150.07 A20.3,20.3 0 0 1 505.48,152.66 Z" fill="#d2b852" stroke="#d2b852" stroke-width="0.3"/>
<path d="M486.40,159.60 L505.48,152.66 A20.3,20.3 0 0 1 506.18,155.03 Z" fill="#a0a8c0" stroke="#a0a8c0" stroke-width="0.3"/>
<path d="M486.40,159.60 L506.18,155.03 A20.3,20.3 0 0 1 506.55,157.13 Z" fill="#6070a0" stroke="#6070a0" stroke-width="0.3"/>
<path d="M486.40,159.60 L506.55,157.13 A20.3,20.3 0 0 1 506.70,159.60 Z" fill="#204848" stroke="#204848" stroke-width="0.3"/>
<path d="M486.40,159.60 L506.70,159.60 A20.3,20.3 0 0 1 506.39,163.13 Z" fill="#2a5a20" stroke="#2a5a20" stroke-width="0.3"/>
<path d="M486.40,159.60 L506.39,163.13 A20.3,20.3 0 0 1 505.22,167.20 Z" fill="#804030" stroke="#804030" stroke-width="0.3"/>
<path d="M486.40,159.60 L505.22,167.20 A20.3,20.3 0 0 1 503.62,170.36 Z" fill="#604080" stroke="#604080" stroke-width="0.3"/>
<path d="M486.40,159.60 L503.62,170.36 A20.3,20.3 0 0 1 501.95,172.65 Z" fill="#402828" stroke="#402828" stroke-width="0.3"/>
<path d="M486.40,159.60 L501.95,172.65 A20.3,20.3 0 0 1 500.24,174.45 Z" fill="#080808" stroke="#080808" stroke-width="0.3"/>
<path d="M486.40,159.60 L500.24,174.45 A20.3,20.3 0 0 1 498.62,175.81 Z" fill="#ffffff" stroke="#ffffff" stroke-width="0.3"/>
<path d="M486.40,159.60 L498.62,175.81 A20.3,20.3 0 0 1 497.16,176.82 Z" fill="#a03010" stroke="#a03010" stroke-width="0.3"/>
<path d="M486.40,159.60 L497.16,176.82 A20.3,20.3 0 0 1 495.62,177.69 Z" fill="#c0a060" stroke="#c0a060" stroke-width="0.3"/>
<path d="M486.40,159.60 L495.62,177.69 A20.3,20.3 0 0 1 494.00,178.42 Z" fill="#90a040" stroke="#90a040" stroke-width="0.3"/>
<path d="M486.40,159.60 L494.00,178.42 A20.3,20.3 0 0 1 491.65,179.21 Z" fill="#1020a0" stroke="#1020a0" stroke-width="0.3"/>
<path d="M486.40,159.60 L491.65,179.21 A20.3,20.3 0 0 1 489.58,179.65 Z" fill="#90b0e0" stroke="#90b0e0" stroke-width="0.3"/>
<path d="M486.40,159.60 L489.58,179.65 A20.3,20.3 0 0 1 483.22,179.65 Z" fill="#96f052" stroke="#96f052" stroke-width="0.3"/>
<path d="M486.40,159.60 L483.22,179.65 A20.3,20.3 0 0 1 481.15,179.21 Z" fill="#c0d0f0" stroke="#c0d0f0" stroke-width="0.3"/>
<path d="M486.40,159.60 L481.15,179.21 A20.3,20.3 0 0 1 479.46,178.68 Z" fill="#802020" stroke="#802020" stroke-width="0.3"/>
<path d="M486.40,159.60 L479.46,178.68 A20.3,20.3 0 0 1 477.82,178.00 Z" fill="#306030" stroke="#306030" stroke-width="0.3"/>
<path d="M486.40,159.60 L477.82,178.00 A20.3,20.3 0 0 1 476.25,177.18 Z" fill="#102060" stroke="#102060" stroke-width="0.3"/>
<path d="M486.40,159.60 L476.25,177.18 A20.3,20.3 0 0 1 474.47,176.02 Z" fill="#a0a050" stroke="#a0a050" stroke-width="0.3"/>
<path d="M486.40,159.60 L474.47,176.02 A20.3,20.3 0 0 1 472.82,174.69 Z" fill="#2030a0" stroke="#2030a0" stroke-width="0.3"/>
<path d="M486.40,159.60 L472.82,174.69 A20.3,20.3 0 0 1 471.31,173.18 Z" fill="#101850" stroke="#101850" stroke-width="0.3"/>
<path d="M486.40,159.60 L471.31,173.18 A20.3,20.3 0 0 1 469.98,171.53 Z" fill="#8090c0" stroke="#8090c0" stroke-width="0.3"/>
<path d="M486.40,159.60 L469.98,171.53 A20.3,20.3 0 0 1 468.82,169.75 Z" fill="#3040b0" stroke="#3040b0" stroke-width="0.3"/>
<path d="M486.40,159.60 L468.82,169.75 A20.3,20.3 0 0 1 467.86,167.86 Z" fill="#b0b070" stroke="#b0b070" stroke-width="0.3"/>
<path d="M486.40,159.60 L467.86,167.86 A20.3,20.3 0 0 1 467.09,165.87 Z" fill="#5050b0" stroke="#5050b0" stroke-width="0.3"/>
<path d="M486.40,159.60 L467.09,165.87 A20.3,20.3 0 0 1 466.54,163.82 Z" fill="#a0a0d0" stroke="#a0a0d0" stroke-width="0.3"/>
<path d="M486.40,159.60 L466.54,163.82 A20.3,20.3 0 0 1 466.21,161.72 Z" fill="#c0e060" stroke="#c0e060" stroke-width="0.3"/>
<path d="M486.40,159.60 L466.21,161.72 A20.3,20.3 0 0 1 466.21,157.48 Z" fill="#5a38b2" stroke="#5a38b2" stroke-width="0.3"/>
<path d="M486.40,159.60 L466.21,157.48 A20.3,20.3 0 0 1 466.62,155.03 Z" fill="#f0b282" stroke="#f0b282" stroke-width="0.3"/>
<path d="M486.40,159.60 L466.62,155.03 A20.3,20.3 0 0 1 467.21,152.99 Z" fill="#804030" stroke="#804030" stroke-width="0.3"/>
<path d="M486.40,159.60 L467.21,152.99 A20.3,20.3 0 0 1 468.00,151.02 Z" fill="#a0a060" stroke="#a0a060" stroke-width="0.3"/>
<path d="M486.40,159.60 L468.00,151.02 A20.3,20.3 0 0 1 469.18,148.84 Z" fill="#7088aa" stroke="#7088aa" stroke-width="0.3"/>
<path d="M486.40,159.60 L469.18,148.84 A20.3,20.3 0 0 1 471.31,146.02 Z" fill="#a2e0f0" stroke="#a2e0f0" stroke-width="0.3"/>
<path d="M486.40,159.60 L471.31,146.02 A20.3,20.3 0 0 1 473.35,144.05 Z" fill="#fafcf8" stroke="#fafcf8" stroke-width="0.3"/>
<path d="M486.40,159.60 L473.35,144.05 A20.3,20.3 0 0 1 477.82,141.20 Z" fill="#f0f0c2" stroke="#f0f0c2" stroke-width="0.3"/>
<path d="M486.40,159.60 L477.82,141.20 A20.3,20.3 0 0 1 479.46,140.52 Z" fill="#fafafa" stroke="#fafafa" stroke-width="0.3"/>
<path d="M486.40,159.60 L479.46,140.52 A20.3,20.3 0 0 1 483.57,139.50 Z" fill="#c0a8e8" stroke="#c0a8e8" stroke-width="0.3"/>
<path d="M486.40,159.60 L483.57,139.50 A20.3,20.3 0 0 1 487.11,139.31 Z" fill="#f0b0d2" stroke="#f0b0d2" stroke-width="0.3"/>
<circle cx="486.40" cy="159.60" r="20.3" fill="none" stroke="#8c8c8c" stroke-width="0.5" opacity="0.7"/>
<polygon points="486.40,159.60 482.80,185.20 490.00,185.20" fill="#a0f05c"/>
<line x1="424.60" y1="193.80" x2="412.13" y2="184.26" stroke="#0a0a0a" stroke-width="1.45"/>
<polygon points="408.40,181.40 413.99,182.65 411.07,186.47" fill="#0a0a0a"/>
<line x1="462.20" y1="192.40" x2="472.82" y2="182.16" stroke="#0a0a0a" stroke-width="1.45"/>
<polygon points="476.20,178.90 474.12,184.24 470.79,180.78" fill="#0a0a0a"/>
</g>
<g id="panelC">
<path d="M34,311.7 L34,385.3 L34.0,385.3 L34.6,366.0 L35.2,352.0 L36.3,344.0 L38.5,338.5 L43.3,332.6 L49.0,329.2 L55.0,326.8 L66.6,323.3 L83.0,319.8 L99.3,317.5 L115.0,315.6 L130.0,314.0 L142.0,312.6 L152.0,311.7 L152,311.7 Z" fill="#5666a6"/>
<path d="M152,311.7 L152.0,311.7 L165.0,310.3 L180.0,308.5 L192.0,307.0 L204.5,305.4 L215.0,303.6 L226.6,301.2 L233.0,298.6 L238.9,295.2 L243.0,292.2 L246.3,288.9 L248.6,285.8 L250.0,282.8 L250.0,311.7 Z" fill="#5666a6"/>
<line x1="65.50" y1="311.70" x2="65.50" y2="323.60" stroke="#86a84e" stroke-width="0.9"/>
<line x1="84.10" y1="311.70" x2="84.10" y2="319.60" stroke="#86a84e" stroke-width="0.9"/>
<line x1="226.00" y1="300.80" x2="226.00" y2="311.70" stroke="#86a84e" stroke-width="0.9"/>
<line x1="238.90" y1="295.20" x2="238.90" y2="311.70" stroke="#86a84e" stroke-width="0.9"/>
<line x1="249.60" y1="282.80" x2="249.60" y2="311.70" stroke="#a8307a" stroke-width="1.0"/>
<line x1="250.80" y1="268.00" x2="250.80" y2="311.70" stroke="#c01830" stroke-width="1.1"/>
<line x1="33.90" y1="238.00" x2="33.90" y2="386.00" stroke="#0a0a0a" stroke-width="1.35"/>
<line x1="31.40" y1="238.50" x2="251.40" y2="238.50" stroke="#0a0a0a" stroke-width="1.2"/>
<line x1="31.40" y1="311.70" x2="252.00" y2="311.70" stroke="#2a2a40" stroke-width="1.0"/>
<line x1="31.40" y1="385.40" x2="252.40" y2="385.40" stroke="#111" stroke-width="1.2"/>
<rect x="226.6" y="248.4" width="26.5" height="69.9" fill="none" stroke="#d99c2e" stroke-width="1.15" stroke-dasharray="1.9 1.9"/>
<text x="23.70" y="241.00" font-size="7.6" textLength="4.40" lengthAdjust="spacingAndGlyphs" fill="#111">1</text>
<text x="23.70" y="314.50" font-size="7.6" textLength="4.30" lengthAdjust="spacingAndGlyphs" fill="#111">0</text>
<text x="20.90" y="388.20" font-size="7.6" textLength="6.80" lengthAdjust="spacingAndGlyphs" fill="#111">-1</text>
<text x="35.40" y="382.80" font-size="7.5" textLength="4.00" lengthAdjust="spacingAndGlyphs" fill="#111">0</text>
<text x="240.00" y="384.80" font-size="7.5" textLength="16.40" lengthAdjust="spacingAndGlyphs" fill="#111">1724</text>
<text x="139.20" y="246.40" font-size="7.5" textLength="66.10" lengthAdjust="spacingAndGlyphs" fill="#111">Candidate shRNAs</text>
<text x="162.60" y="256.40" font-size="7.5" textLength="18.40" lengthAdjust="spacingAndGlyphs" fill="#111">(200)</text>
<text x="170.60" y="266.60" font-size="7.5" textLength="51.40" lengthAdjust="spacingAndGlyphs" fill="#111">ITGβ1-shRNA1</text>
<text x="168.50" y="277.90" font-size="7.5" textLength="52.70" lengthAdjust="spacingAndGlyphs" fill="#111">ITGβ1-shRNA2</text>
<text x="122.10" y="357.70" font-size="7.5" textLength="53.90" lengthAdjust="spacingAndGlyphs" fill="#111">Control shRNAs</text>
<text x="111.00" y="377.30" font-size="7.5" textLength="62.50" lengthAdjust="spacingAndGlyphs" fill="#111">identified shRNAs</text>
<g transform="translate(17.2 312.0) rotate(-90)" font-size="9.8" fill="#111" stroke="#111" stroke-width="0.2">
<text x="-61.7" y="0" textLength="39.5" lengthAdjust="spacingAndGlyphs">Mean LOG</text>
<text x="-21.2" y="2.1" font-size="7" textLength="13.2" lengthAdjust="spacingAndGlyphs">(10)</text>
<text x="-2.6" y="0" textLength="63.6" lengthAdjust="spacingAndGlyphs">(N-Adh/ Adh) n=3</text>
</g>
<line x1="205.80" y1="245.20" x2="221.36" y2="247.72" stroke="#0a0a0a" stroke-width="1.45"/>
<polygon points="226.20,248.50 220.47,250.11 221.27,245.17" fill="#0a0a0a"/>
<line x1="222.90" y1="264.40" x2="245.37" y2="272.19" stroke="#0a0a0a" stroke-width="1.45"/>
<polygon points="250.00,273.80 244.08,274.39 245.72,269.67" fill="#0a0a0a"/>
<line x1="222.90" y1="275.40" x2="242.23" y2="282.84" stroke="#0a0a0a" stroke-width="1.45"/>
<polygon points="246.80,284.60 240.86,284.99 242.66,280.33" fill="#0a0a0a"/>
<line x1="124.00" y1="347.70" x2="70.83" y2="329.30" stroke="#0a0a0a" stroke-width="1.45"/>
<polygon points="66.20,327.70 72.12,327.10 70.49,331.83" fill="#0a0a0a"/>
<line x1="138.50" y1="345.20" x2="89.98" y2="326.74" stroke="#0a0a0a" stroke-width="1.45"/>
<polygon points="85.40,325.00 91.34,324.58 89.56,329.26" fill="#0a0a0a"/>
<line x1="145.20" y1="345.20" x2="141.56" y2="322.14" stroke="#0a0a0a" stroke-width="1.45"/>
<polygon points="140.80,317.30 144.11,322.24 139.17,323.02" fill="#0a0a0a"/>
<line x1="149.40" y1="345.20" x2="152.29" y2="322.16" stroke="#0a0a0a" stroke-width="1.45"/>
<polygon points="152.90,317.30 154.71,322.97 149.75,322.35" fill="#0a0a0a"/>
<line x1="153.80" y1="345.00" x2="170.21" y2="321.33" stroke="#0a0a0a" stroke-width="1.45"/>
<polygon points="173.00,317.30 171.98,323.16 167.87,320.31" fill="#0a0a0a"/>
<line x1="161.20" y1="345.20" x2="217.79" y2="321.12" stroke="#0a0a0a" stroke-width="1.45"/>
<polygon points="222.30,319.20 218.31,323.61 216.35,319.01" fill="#0a0a0a"/>
<line x1="167.00" y1="345.20" x2="228.14" y2="321.00" stroke="#0a0a0a" stroke-width="1.45"/>
<polygon points="232.70,319.20 228.60,323.51 226.76,318.86" fill="#0a0a0a"/>
</g>
<g id="panelD">
<text x="323.70" y="245.80" font-size="7.5" textLength="128.00" lengthAdjust="spacingAndGlyphs" fill="#111">subscreen with candidate 200shRNAs</text>
<text x="326.50" y="269.20" font-size="7.5" textLength="122.40" lengthAdjust="spacingAndGlyphs" fill="#111">individual validations of top 17genes</text>
<text x="340.70" y="292.30" font-size="7.5" textLength="94.10" lengthAdjust="spacingAndGlyphs" fill="#111">selection of validated genes</text>
<line x1="388.40" y1="248.90" x2="388.40" y2="256.90" stroke="#0a0a0a" stroke-width="1.45"/>
<polygon points="388.40,261.80 385.90,256.40 390.90,256.40" fill="#0a0a0a"/>
<line x1="388.40" y1="271.90" x2="388.40" y2="280.00" stroke="#0a0a0a" stroke-width="1.45"/>
<polygon points="388.40,284.90 385.90,279.50 390.90,279.50" fill="#0a0a0a"/>
<line x1="388.40" y1="295.10" x2="388.40" y2="304.00" stroke="#0a0a0a" stroke-width="1.45"/>
<polygon points="388.40,308.90 385.90,303.50 390.90,303.50" fill="#0a0a0a"/>
<rect x="317.00" y="315.08" width="15.30" height="18.24" fill="#2c4a80"/>
<rect x="317.00" y="333.12" width="15.30" height="36.08" fill="#b0042e"/>
<line x1="324.65" y1="369.20" x2="324.65" y2="371.80" stroke="#111" stroke-width="1.0"/>
<text transform="translate(327.95 378.9) rotate(-45)" x="0" y="0" text-anchor="end" font-size="8" fill="#111">CYTH1</text>
<rect x="340.10" y="324.10" width="15.30" height="18.24" fill="#2c4a80"/>
<rect x="340.10" y="342.14" width="15.30" height="27.06" fill="#b0042e"/>
<line x1="347.75" y1="369.20" x2="347.75" y2="371.80" stroke="#111" stroke-width="1.0"/>
<text transform="translate(351.05 378.9) rotate(-45)" x="0" y="0" text-anchor="end" font-size="8" fill="#111">CD90</text>
<rect x="363.20" y="324.10" width="15.30" height="27.26" fill="#2c4a80"/>
<rect x="363.20" y="351.16" width="15.30" height="18.04" fill="#b0042e"/>
<line x1="370.85" y1="369.20" x2="370.85" y2="371.80" stroke="#111" stroke-width="1.0"/>
<text transform="translate(374.15 378.9) rotate(-45)" x="0" y="0" text-anchor="end" font-size="8" fill="#111">ITGA6</text>
<rect x="386.30" y="333.12" width="15.30" height="18.24" fill="#2c4a80"/>
<rect x="386.30" y="351.16" width="15.30" height="18.04" fill="#b0042e"/>
<line x1="393.95" y1="369.20" x2="393.95" y2="371.80" stroke="#111" stroke-width="1.0"/>
<text transform="translate(397.25 378.9) rotate(-45)" x="0" y="0" text-anchor="end" font-size="8" fill="#111">MMRN1</text>
<rect x="409.40" y="333.12" width="15.30" height="18.24" fill="#2c4a80"/>
<rect x="409.40" y="351.16" width="15.30" height="18.04" fill="#b0042e"/>
<line x1="417.05" y1="369.20" x2="417.05" y2="371.80" stroke="#111" stroke-width="1.0"/>
<text transform="translate(420.35 378.9) rotate(-45)" x="0" y="0" text-anchor="end" font-size="8" fill="#111">NEDD9</text>
<rect x="432.50" y="333.12" width="15.30" height="18.24" fill="#2c4a80"/>
<rect x="432.50" y="351.16" width="15.30" height="18.04" fill="#b0042e"/>
<line x1="440.15" y1="369.20" x2="440.15" y2="371.80" stroke="#111" stroke-width="1.0"/>
<text transform="translate(443.45 378.9) rotate(-45)" x="0" y="0" text-anchor="end" font-size="8" fill="#111">PPFIA 1</text>
<rect x="455.60" y="333.12" width="15.30" height="18.24" fill="#2c4a80"/>
<rect x="455.60" y="351.16" width="15.30" height="18.04" fill="#b0042e"/>
<line x1="463.25" y1="369.20" x2="463.25" y2="371.80" stroke="#111" stroke-width="1.0"/>
<text transform="translate(466.55 378.9) rotate(-45)" x="0" y="0" text-anchor="end" font-size="8" fill="#111">ROBO1</text>
<line x1="312.50" y1="311.60" x2="312.50" y2="369.80" stroke="#111" stroke-width="1.2"/>
<line x1="312.00" y1="369.30" x2="474.20" y2="369.30" stroke="#111" stroke-width="1.2"/>
<line x1="309.60" y1="369.20" x2="312.50" y2="369.20" stroke="#111" stroke-width="1.0"/>
<text x="303.80" y="371.90" font-size="7.5" textLength="4.20" lengthAdjust="spacingAndGlyphs" fill="#111">0</text>
<line x1="309.60" y1="360.18" x2="312.50" y2="360.18" stroke="#111" stroke-width="1.0"/>
<text x="303.80" y="362.88" font-size="7.5" textLength="4.20" lengthAdjust="spacingAndGlyphs" fill="#111">1</text>
<line x1="309.60" y1="351.16" x2="312.50" y2="351.16" stroke="#111" stroke-width="1.0"/>
<text x="303.80" y="353.86" font-size="7.5" textLength="4.20" lengthAdjust="spacingAndGlyphs" fill="#111">2</text>
<line x1="309.60" y1="342.14" x2="312.50" y2="342.14" stroke="#111" stroke-width="1.0"/>
<text x="303.80" y="344.84" font-size="7.5" textLength="4.20" lengthAdjust="spacingAndGlyphs" fill="#111">3</text>
<line x1="309.60" y1="333.12" x2="312.50" y2="333.12" stroke="#111" stroke-width="1.0"/>
<text x="303.80" y="335.82" font-size="7.5" textLength="4.20" lengthAdjust="spacingAndGlyphs" fill="#111">4</text>
<line x1="309.60" y1="324.10" x2="312.50" y2="324.10" stroke="#111" stroke-width="1.0"/>
<text x="303.80" y="326.80" font-size="7.5" textLength="4.20" lengthAdjust="spacingAndGlyphs" fill="#111">5</text>
<line x1="309.60" y1="315.08" x2="312.50" y2="315.08" stroke="#111" stroke-width="1.0"/>
<text x="303.80" y="317.78" font-size="7.5" textLength="4.20" lengthAdjust="spacingAndGlyphs" fill="#111">6</text>
<text transform="translate(297.80 340.60) rotate(-90)" x="-35.15" y="0" font-size="10.4" textLength="70.30" lengthAdjust="spacingAndGlyphs" fill="#111" stroke="#111" stroke-width="0.2">Number of shRNA</text>
<rect x="475.60" y="314.10" width="4.30" height="4.30" fill="#2c4a80"/>
<rect x="475.60" y="323.00" width="4.30" height="4.30" fill="#b0042e"/>
<text x="483.50" y="319.00" font-size="7.5" textLength="28.20" lengthAdjust="spacingAndGlyphs" fill="#111">negative</text>
<text x="483.50" y="327.90" font-size="7.5" textLength="25.80" lengthAdjust="spacingAndGlyphs" fill="#111">positive</text>
</g>
<rect x="0" y="0" width="520" height="1.0" fill="#000"/>
<rect x="0" y="0" width="1.1" height="407" fill="#000"/>
<rect x="518.8" y="0" width="1.2" height="407" fill="#000"/>
<rect x="0" y="405.3" width="520" height="1.7" fill="#000"/>
</svg></body></html>
